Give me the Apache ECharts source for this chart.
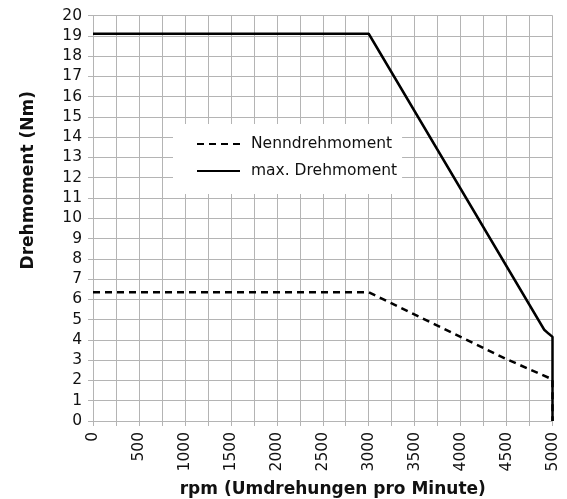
<!DOCTYPE html>
<html>
<head>
<meta charset="utf-8">
<script src="https://cdn.jsdelivr.net/npm/echarts@6/dist/echarts.min.js"></script>
<style>
  html, body { margin: 0; padding: 0; background: #fff; }
  #chart { width: 567px; height: 499px; }
</style>
</head>
<body>
<div id="chart"></div>
<script>
// rpm / Nm Werte
var nennRpm = [0, 3000, 3250, 4000, 4500, 5000, 5000];
var nennNm = [6.35, 6.35, 5.8, 4.15, 3.05, 2.05, 0];
var maxRpm = [0, 3000, 4910, 4960, 5000, 5000];
var maxNm = [19.1, 19.1, 4.5, 4.3, 4.15, 0];

function toPairs(xs, ys) {
    var res = [];
    for (var i = 0; i < xs.length; i++) {
        res.push([xs[i], ys[i]]);
    }
    return res;
}

var chart = echarts.init(document.getElementById('chart'));
var gridColor = '#b4b4b4';
var font = 'DejaVu Sans, Liberation Sans, sans-serif';

var option = {
    backgroundColor: '#fff',
    animation: false,
    textStyle: { fontFamily: font },
    grid: { left: 93, right: 14.5, top: 15.5, bottom: 78, containLabel: false, outerBoundsMode: 'none' },
    legend: {
        orient: 'vertical',
        left: 173,
        top: 124,
        backgroundColor: '#fff',
        padding: [12, 5, 15, 23],
        itemWidth: 43,
        itemHeight: 14,
        itemGap: 11,
        itemStyle: { color: 'rgba(0,0,0,0)', borderColor: 'rgba(0,0,0,0)', borderWidth: 0 },
        textStyle: { fontSize: 15.5, color: '#111', fontFamily: font, padding: [0, 0, 0, 6] },
        data: ['Nenndrehmoment', 'max. Drehmoment']
    },
    xAxis: {
        type: 'value',
        min: 0,
        max: 5000,
        interval: 250,
        name: 'rpm (Umdrehungen pro Minute)',
        nameLocation: 'middle',
        nameGap: 60,
        nameTextStyle: { fontSize: 17, fontWeight: 'bold', color: '#111', fontFamily: font, padding: [0, 0, 0, 20] },
        axisLine: { lineStyle: { color: gridColor, width: 1 } },
        axisTick: { show: true, length: 5, lineStyle: { color: gridColor } },
        axisLabel: {
            rotate: 90,
            fontSize: 15.5,
            color: '#111',
            margin: 11,
            formatter: function (v) { return v % 500 === 0 ? String(v) : ''; }
        },
        splitLine: { show: true, lineStyle: { color: gridColor, width: 1 } }
    },
    yAxis: {
        type: 'value',
        min: 0,
        max: 20,
        interval: 1,
        name: 'Drehmoment (Nm)',
        nameLocation: 'middle',
        nameRotate: 90,
        nameGap: 56,
        nameTextStyle: { fontSize: 17, fontWeight: 'bold', color: '#111', fontFamily: font, padding: [0, 0, 0, 76] },
        axisLine: { show: true, lineStyle: { color: gridColor, width: 1 } },
        axisTick: { show: true, length: 5, lineStyle: { color: gridColor } },
        axisLabel: { fontSize: 15.5, color: '#111', margin: 11 },
        splitLine: { show: true, lineStyle: { color: gridColor, width: 1 } }
    },
    series: [
        {
            name: 'Nenndrehmoment',
            type: 'line',
            symbol: 'none',
            data: toPairs(nennRpm, nennNm),
            lineStyle: { color: '#000', width: 2.5, type: [7, 5] },
            itemStyle: { color: '#000' },
            z: 3
        },
        {
            name: 'max. Drehmoment',
            type: 'line',
            symbol: 'none',
            data: toPairs(maxRpm, maxNm),
            lineStyle: { color: '#000', width: 2.5 },
            itemStyle: { color: '#000' },
            z: 4
        }
    ]
};

chart.setOption(option);
</script>
</body>
</html>
